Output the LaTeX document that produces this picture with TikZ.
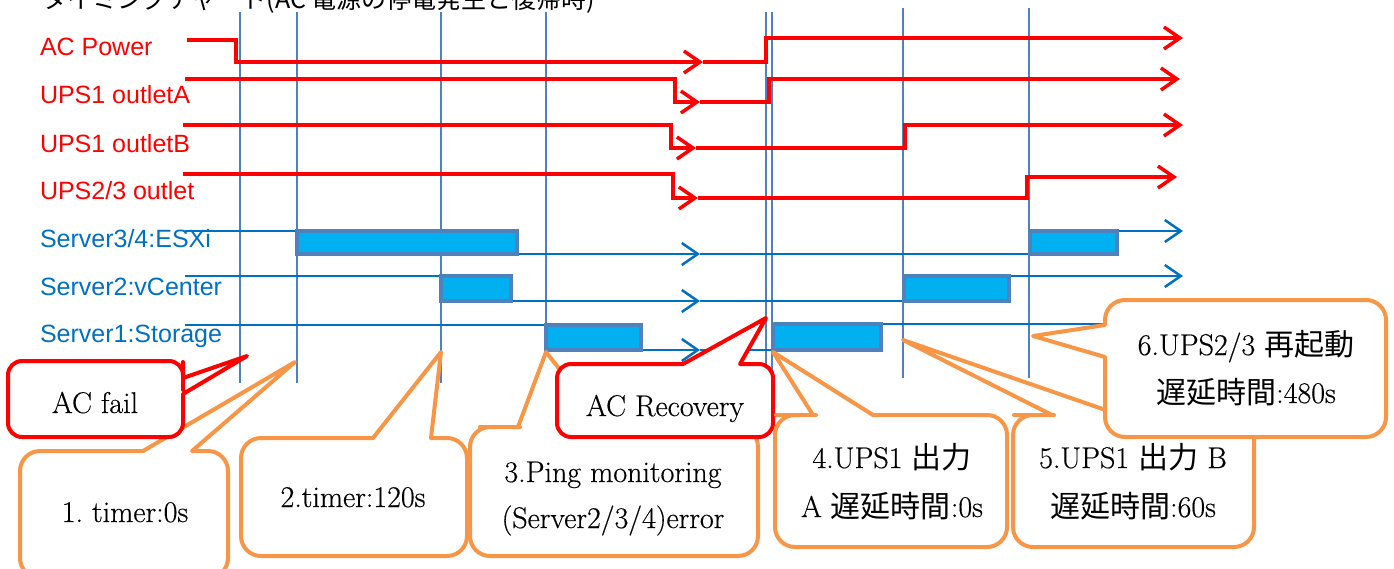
\documentclass[tikz,border=0pt]{standalone}
\usepackage{fontspec}
\setsansfont{Liberation Sans}
\newfontfamily\jpfont{Noto Sans CJK JP}
\newfontfamily\notefont[FakeBold=0.4]{Latin Modern Roman}
\usepackage{tikz}
\usetikzlibrary{arrows.meta}
\definecolor{sigRed}{HTML}{FF0000}
\definecolor{sigBlue}{HTML}{0070C0}
\definecolor{markBlue}{HTML}{4F81BD}
\definecolor{busyCyan}{HTML}{00B0F0}
\definecolor{noteOrange}{HTML}{F79646}
\newcommand{\jp}[1]{{\jpfont #1}}

\begin{document}
\begin{tikzpicture}[
  x=1pt, y=-1pt,
  every node/.style={inner sep=0pt, outer sep=0pt},
  siglabel/.style={anchor=base west, font=\sffamily\fontsize{25}{30}\selectfont, text=#1},
  redsig/.style={sigRed, line width=3.5pt},
  bluesig/.style={sigBlue, line width=2.5pt},
  endarrow/.style={-{Straight Barb[length=16pt,width=22pt]}},
  busy/.style={draw=markBlue, fill=busyCyan, line width=4pt},
  marker/.style={markBlue, line width=1.3pt},
  noteO/.style={draw=noteOrange, fill=white, line width=4pt, line join=round},
  noteR/.style={draw=sigRed, fill=white, line width=4pt, line join=round},
  notetext/.style={anchor=base, font=\notefont\fontsize{30}{36}\selectfont},
]

% Page frame
\useasboundingbox (0,0) rectangle (1394,568);
\clip (0,0) rectangle (1394,568);

% Title (cut at the top edge)
\node[font=\jpfont\fontsize{25}{30}\selectfont, anchor=base west] (title) at (42,8)
  {タイミングチャート(AC 電源の停電発生と復帰時)};

% Event markers
\foreach \x/\ya/\yb in {240/12/383, 297/12/383, 441/12/383, 546/12/350,
                        766/12/383, 772/12/383, 903/8/378, 1029/8/378}
  \draw[marker] (\x,\ya) -- (\x,\yb);

% Signal names
\node[siglabel=sigRed] (lblAC) at (40,55) {AC Power};
\node[siglabel=sigRed] (lblUpsA) at (40,103) {UPS1 outletA};
\node[siglabel=sigRed] (lblUpsB) at (40,152) {UPS1 outletB};
\node[siglabel=sigRed] (lblUps23) at (40,199) {UPS2/3 outlet};
\node[siglabel=sigBlue] (lblEsxi) at (40,247) {Server3/4:ESXi};
\node[siglabel=sigBlue] (lblVc) at (40,295) {Server2:vCenter};
\node[siglabel=sigBlue] (lblSt) at (40,342) {Server1:Storage};

% AC Power
\draw[redsig, endarrow] (187,40) -- (236,40) -- (236,62) -- (703,62);
\draw[redsig, endarrow] (703,62) -- (766,62) -- (766,38) -- (1183,38);
% UPS1 outletA
\draw[redsig, endarrow] (185,79) -- (675,79) -- (675,102) -- (700,102);
\draw[redsig, endarrow] (700,102) -- (769,102) -- (769,79) -- (1180,79);
% UPS1 outletB
\draw[redsig, endarrow] (183,125) -- (671,125) -- (671,148) -- (696,148);
\draw[redsig, endarrow] (696,148) -- (905,148) -- (905,125) -- (1183,125);
% UPS2/3 outlet
\draw[redsig, endarrow] (183,174) -- (673,174) -- (673,198) -- (698,198);
\draw[redsig, endarrow] (698,198) -- (1027,198) -- (1027,177) -- (1177,177);

% Server3/4:ESXi
\draw[bluesig] (185,231) -- (297,231);
\draw[bluesig, endarrow] (517,254) -- (700,254);
\draw[bluesig] (700,254) -- (1030,254);
\draw[bluesig, endarrow] (1117,231) -- (1183,231);
\draw[busy] (297,231) rectangle (517,254);
\draw[busy] (1030,231) rectangle (1117,254);

% Server2:vCenter
\draw[bluesig] (185,276) -- (441,276);
\draw[bluesig, endarrow] (511,301) -- (700,301);
\draw[bluesig] (700,301) -- (904,301);
\draw[bluesig, endarrow] (1009,276) -- (1183,276);
\draw[busy] (441,276) rectangle (511,301);
\draw[busy] (904,276) rectangle (1009,301);

% Server1:Storage
\draw[bluesig] (185,325) -- (546,325);
\draw[bluesig, endarrow] (641,350) -- (700,350);
\draw[bluesig] (700,350) -- (773,350);
\draw[bluesig, endarrow] (881,324) -- (1183,324);
\draw[busy] (546,325) rectangle (641,350);
\draw[busy] (773,324) rectangle (881,350);

% Step callouts
\draw[noteO] (20,520) [rounded corners=20pt] -- (20,451) -- (100,451) [sharp corners]
  -- (143,451) -- (295,362) -- (192,451) -- (205,451) [rounded corners=20pt]
  -- (228,451) -- (228,578) -- (20,578) -- cycle;
\node[notetext] (n1) at (125,522) {1.\ timer:0s};

\draw[noteO] (241,500) [rounded corners=20pt] -- (241,438) -- (300,438) [sharp corners]
  -- (373,438) -- (441,352) -- (431,438) -- (445,438) [rounded corners=20pt]
  -- (467,438) -- (467,556) -- (241,556) -- cycle;
\node[notetext] (n2) at (353,507) {2.timer:120s};

\draw[noteO] (470,490) [rounded corners=20pt] -- (470,427) -- (500,427) [sharp corners]
  -- (518,427) -- (546,352) -- (605,427) -- (620,427) [rounded corners=20pt]
  -- (758,427) -- (758,556) -- (470,556) -- cycle;
\node[notetext] (n3a) at (613,482) {3.Ping monitoring};
\node[notetext] (n3b) at (613,528) {(Server2/3/4)error};

% Power events
\draw[noteR] (95,361) [rounded corners=14pt] -- (183,361) -- (183,376) [sharp corners]
  -- (183,378) -- (247,356) -- (183,394) -- (183,400) [rounded corners=14pt]
  -- (183,437) -- (8,437) -- (8,361) -- cycle;
\node[notetext] (failtxt) at (95,413) {AC fail};

\draw[noteR] (557,400) [rounded corners=14pt] -- (557,364) -- (650,364) [sharp corners]
  -- (683,364) -- (766,318) -- (740,364) -- (755,364) [rounded corners=14pt]
  -- (773,364) -- (773,437) -- (557,437) -- cycle;
\node[notetext] (rectxt) at (665,416) {AC Recovery};

% Delay callouts
\draw[noteO] (775,480) [rounded corners=20pt] -- (775,415) -- (796,415) [sharp corners]
  -- (813,415) -- (773,352) -- (873,415) -- (890,415) [rounded corners=20pt]
  -- (1007,415) -- (1007,547) -- (775,547) -- cycle;
\node[notetext] (n4a) at (892,468) {4.UPS1 \jp{出力}};
\node[notetext] (n4b) at (892,517) {A \jp{遅延時間}:0s};

\draw[noteO] (1013,480) [rounded corners=20pt] -- (1013,415) -- (1034,415) [sharp corners]
  -- (1052,415) -- (903,340) -- (1120,415) -- (1140,415) [rounded corners=20pt]
  -- (1254,415) -- (1254,547) -- (1013,547) -- cycle;
\node[notetext] (n5a) at (1133,468) {5.UPS1 \jp{出力} B};
\node[notetext] (n5b) at (1133,517) {\jp{遅延時間}:60s};

\draw[noteO] (1245,300) [rounded corners=20pt] -- (1386,300) -- (1386,437) -- (1105,437)
  -- (1105,380) [sharp corners] -- (1105,357) -- (1033,336) -- (1105,325)
  -- (1105,322) [rounded corners=20pt] -- (1105,300) -- cycle;
\node[notetext] (n6a) at (1246,355) {6.UPS2/3 \jp{再起動}};
\node[notetext] (n6b) at (1246,403) {\jp{遅延時間}:480s};

\end{tikzpicture}
\end{document}
